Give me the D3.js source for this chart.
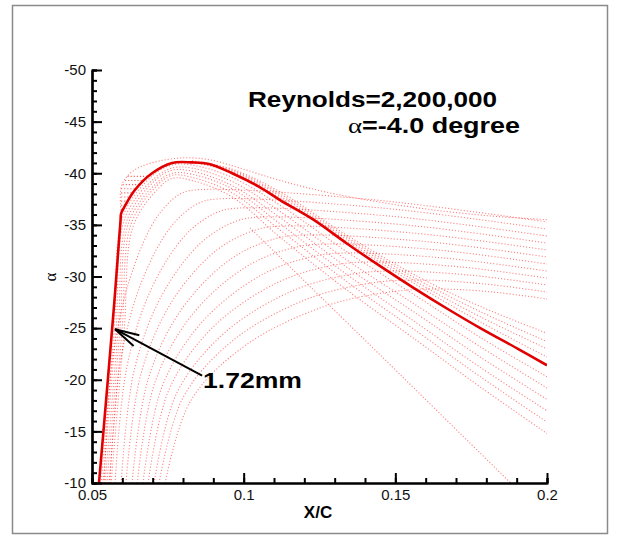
<!DOCTYPE html>
<html>
<head>
<meta charset="utf-8">
<script src="https://cdn.jsdelivr.net/npm/d3@7"></script>
<style>
body { margin: 0; background: #fff; }
svg { display: block; font-family: "Liberation Sans", Arial, sans-serif; }
</style>
</head>
<body>
<script>
// tick values / labels
var xTicks = [0.05, 0.1, 0.15, 0.2];
var xTickLabels = ["0.05", "0.1", "0.15", "0.2"];
var yTicks = [-50, -45, -40, -35, -30, -25, -20, -15, -10];

// the thick red curve
var mainCurve = [[0.0523,-10],[0.0545,-17.5],[0.0566,-24.8],[0.0576,-28.4],[0.0594,-35.4],[0.0596,-36.1],
  [0.0606,-36.7],[0.0642,-38.4],[0.0698,-40.0],[0.0764,-41.0],[0.083,-41.05],[0.0886,-40.9],[0.0962,-40.0],
  [0.105,-38.7],[0.112,-37.4],[0.123,-35.5],[0.134,-33.2],[0.145,-31.0],[0.156,-28.9],[0.167,-26.9],
  [0.178,-25.0],[0.191,-22.9],[0.2,-21.4]];

// dotted lines hugging the thick curve (inside it)
var innerBand = [
  [[0.0530,-10],[0.0573,-24.8],[0.0603,-35.9],[0.0701,-39.8],[0.0764,-40.8],[0.083,-40.8],[0.0962,-39.6],[0.112,-36.9],[0.134,-32.4],[0.158,-27.9],[0.178,-24.1],[0.2,-20.3]],
  [[0.0536,-10],[0.0579,-24.8],[0.0609,-35.7],[0.0705,-39.5],[0.0764,-40.5],[0.083,-40.5],[0.0962,-39.2],[0.112,-36.3],[0.134,-31.6],[0.158,-27.0],[0.178,-23.2],[0.2,-19.2]],
  [[0.0543,-10],[0.0586,-24.8],[0.0616,-35.5],[0.0708,-39.3],[0.0764,-40.3],[0.083,-40.2],[0.0962,-38.8],[0.112,-35.7],[0.134,-30.9],[0.158,-26.2],[0.178,-22.2],[0.2,-18.1]],
  [[0.0549,-10],[0.0592,-24.8],[0.0622,-35.3],[0.0711,-39.0],[0.0764,-40.0],[0.083,-39.9],[0.0962,-38.5],[0.112,-35.1],[0.134,-30.2],[0.158,-25.3],[0.178,-21.2],[0.2,-17.0]],
  [[0.0556,-10],[0.0599,-24.8],[0.0629,-35.1],[0.0714,-38.8],[0.0764,-39.8],[0.083,-39.6],[0.0962,-38.1],[0.112,-34.5],[0.134,-29.5],[0.158,-24.5],[0.178,-20.3],[0.2,-15.9]],
  [[0.0563,-10],[0.0606,-24.8],[0.0636,-34.9],[0.0718,-38.5],[0.0764,-39.5],[0.083,-39.3],[0.0962,-37.7],[0.112,-33.8],[0.134,-28.7],[0.158,-23.6],[0.178,-19.3],[0.2,-14.8]]
];

// dotted lines just above the thick curve on its falling side
var outerBand = [
  [[0.083,-41.05],[0.0962,-40.1],[0.112,-37.6],[0.134,-33.4],[0.158,-29.0],[0.178,-25.6],[0.2,-22.2]],
  [[0.083,-41.1],[0.0962,-40.2],[0.112,-37.8],[0.134,-33.6],[0.158,-29.3],[0.178,-26.1],[0.2,-23.0]],
  [[0.083,-41.15],[0.0962,-40.3],[0.112,-38.0],[0.134,-33.8],[0.158,-29.6],[0.178,-26.6],[0.2,-23.7]],
  [[0.083,-41.2],[0.0962,-40.4],[0.112,-38.2],[0.134,-34.0],[0.158,-29.9],[0.178,-27.1],[0.2,-24.5]]
];

// outermost dotted envelope
var envelope = [[0.0596,-36.1],[0.0596,-38.67],[0.0619,-39.8],[0.0658,-40.6],[0.0724,-41.2],[0.0807,-41.5],
  [0.0889,-41.3],[0.0988,-40.5],[0.112,-39.3],[0.13,-38.0],[0.156,-36.7],[0.18,-35.9],[0.2,-35.5]];

// nested arcs rising from the bottom, then running to the right edge
var arcs = [
  [[0.0540,-10],[0.0568,-22.0],[0.0628,-30.07],[0.0713,-35.71],[0.0788,-37.95],[0.0840,-38.38],[0.1421,-37.45],[0.2,-35.28]],
  [[0.0559,-10],[0.0593,-21.63],[0.0663,-29.45],[0.0763,-34.92],[0.0851,-37.09],[0.0913,-37.51],[0.1457,-36.63],[0.2,-34.6]],
  [[0.0576,-10],[0.0615,-21.26],[0.0696,-28.83],[0.0812,-34.13],[0.0914,-36.23],[0.0985,-36.63],[0.1493,-35.82],[0.2,-33.92]],
  [[0.0596,-10],[0.0639,-20.9],[0.0731,-28.22],[0.0862,-33.34],[0.0977,-35.37],[0.1058,-35.76],[0.1530,-35.0],[0.2,-33.24]],
  [[0.0612,-10],[0.0661,-20.53],[0.0764,-27.6],[0.0911,-32.55],[0.1040,-34.51],[0.1130,-34.89],[0.1566,-34.19],[0.2,-32.57]],
  [[0.0632,-10],[0.0686,-20.16],[0.0799,-26.98],[0.0961,-31.76],[0.1104,-33.66],[0.1203,-34.02],[0.1602,-33.38],[0.2,-31.89]],
  [[0.0649,-10],[0.0708,-19.79],[0.0832,-26.37],[0.1010,-30.97],[0.1166,-32.8],[0.1276,-33.15],[0.1639,-32.57],[0.2,-31.21]],
  [[0.0668,-10],[0.0732,-19.42],[0.0868,-25.75],[0.1061,-30.18],[0.1230,-31.95],[0.1348,-32.28],[0.1675,-31.75],[0.2,-30.53]],
  [[0.0685,-10],[0.0754,-19.06],[0.0900,-25.13],[0.1110,-29.39],[0.1293,-31.08],[0.1421,-31.4],[0.1711,-30.94],[0.2,-29.85]],
  [[0.0705,-10],[0.0779,-18.69],[0.0936,-24.52],[0.1160,-28.6],[0.1356,-30.22],[0.1493,-30.53],[0.1748,-30.13],[0.2,-29.18]],
  [[0.0721,-10],[0.0801,-18.32],[0.0969,-23.9],[0.1209,-27.81],[0.1419,-29.36],[0.1566,-29.66],[0.1784,-29.31],[0.2,-28.5]],
  [[0.0741,-10],[0.0825,-17.95],[0.1004,-23.29],[0.1259,-27.03],[0.1483,-28.51],[0.1639,-28.79],[0.1820,-28.5],[0.2,-27.82]]
];

// single steep dotted line crossing the x axis
var radialLine = [[0.1021,-34.7],[0.145,-22.4],[0.188,-10]];

// short horizontal hatches left of the corner: [y, x1, x2]
var hatches = [[-36.5,0.0596,0.0604],[-36.9,0.0596,0.0612],[-37.3,0.0596,0.062],[-37.7,0.0596,0.0628],
  [-38.1,0.0596,0.0636],[-38.5,0.0596,0.0644],[-38.9,0.0601,0.066],[-39.3,0.0609,0.0674],[-39.7,0.0617,0.0688]];

// arrow annotation: tip, tail
var arrowTip = [0.0576, -24.9];
var arrowTail = [0.0863, -20.4];

var W = 620, H = 539;

var svg = d3.select("body").append("svg")
  .attr("width", W)
  .attr("height", H);

// outer frame
svg.append("rect")
  .attr("x", 12.5).attr("y", 5.5)
  .attr("width", 595).attr("height", 528)
  .attr("fill", "none")
  .attr("stroke", "#8a8a8a")
  .attr("stroke-width", 1.5);

var x = d3.scaleLinear().domain([0.05, 0.2]).range([92, 547]);
var y = d3.scaleLinear().domain([-10, -50]).range([483, 70]);

svg.append("clipPath").attr("id", "plot")
  .append("rect")
  .attr("x", 92).attr("y", 70)
  .attr("width", 455).attr("height", 413);

var plot = svg.append("g").attr("clip-path", "url(#plot)");

var line = d3.line()
  .x(function(d) { return x(d[0]); })
  .y(function(d) { return y(d[1]); })
  .curve(d3.curveCatmullRom.alpha(0.5));

var dotted = function(sel) {
  sel.attr("fill", "none")
    .attr("stroke", "#ff0000")
    .attr("stroke-opacity", 0.5)
    .attr("stroke-width", 1.1)
    .attr("stroke-dasharray", "1.1,2");
};

plot.append("g").selectAll("path")
  .data(arcs.concat(innerBand, outerBand, [envelope, radialLine]))
  .enter().append("path")
  .attr("d", line)
  .call(dotted);

plot.append("g").selectAll("line")
  .data(hatches)
  .enter().append("line")
  .attr("x1", function(d) { return x(d[1]); })
  .attr("x2", function(d) { return x(d[2]); })
  .attr("y1", function(d) { return y(d[0]); })
  .attr("y2", function(d) { return y(d[0]); })
  .call(dotted)
  .attr("stroke-opacity", 0.65);

plot.append("path")
  .datum(mainCurve)
  .attr("d", line)
  .attr("fill", "none")
  .attr("stroke", "#e00000")
  .attr("stroke-width", 2.6)
  .attr("stroke-linejoin", "round");

// axes
var yAxis = svg.append("g").attr("transform", "translate(92,0)")
  .call(d3.axisLeft(y).tickValues(yTicks).tickSizeInner(-10).tickSizeOuter(0).tickPadding(6)
    .tickFormat(function(d) { return d; }));
var yMinor = svg.append("g").attr("transform", "translate(92,0)")
  .call(d3.axisLeft(y).tickValues(d3.range(-50, -9, 1)).tickSize(-5).tickFormat(""));
var xAxis = svg.append("g").attr("transform", "translate(0,483)")
  .call(d3.axisBottom(x).tickValues(xTicks).tickSizeInner(-10).tickSizeOuter(0).tickPadding(6)
    .tickFormat(function(d, i) { return xTickLabels[i]; }));
var xMinor = svg.append("g").attr("transform", "translate(0,483)")
  .call(d3.axisBottom(x).tickValues(d3.range(0.05, 0.2001, 0.01)).tickSize(-5).tickFormat(""));

[yAxis, yMinor, xAxis, xMinor].forEach(function(g) {
  g.selectAll("path.domain").attr("stroke", "#000").attr("stroke-width", 2.2);
  g.selectAll(".tick line").attr("stroke", "#000").attr("stroke-width", 2);
  g.selectAll("text")
    .attr("font-family", "\"Liberation Sans\", Arial, sans-serif")
    .attr("font-size", 15)
    .attr("fill", "#111");
});

// axis titles
svg.append("text")
  .attr("transform", "translate(56,277) rotate(-90)")
  .attr("text-anchor", "middle")
  .attr("font-family", "\"Liberation Serif\", serif")
  .attr("font-size", 17)
  .text("α");

svg.append("text")
  .attr("x", 318).attr("y", 518)
  .attr("text-anchor", "middle")
  .attr("font-size", 17)
  .attr("font-weight", "bold")
  .text("X/C");

// annotation text
svg.append("text")
  .attr("x", 248).attr("y", 107)
  .attr("font-size", 22)
  .attr("font-weight", "bold")
  .attr("textLength", 249)
  .attr("lengthAdjust", "spacingAndGlyphs")
  .text("Reynolds=2,200,000");

var t2 = svg.append("text")
  .attr("x", 348).attr("y", 133)
  .attr("font-size", 22)
  .attr("font-weight", "bold")
  .attr("textLength", 172)
  .attr("lengthAdjust", "spacingAndGlyphs");
t2.append("tspan")
  .attr("font-family", "\"Liberation Serif\", serif")
  .attr("font-weight", "normal")
  .text("α");
t2.append("tspan").text("=-4.0 degree");

svg.append("text")
  .attr("x", 203).attr("y", 388)
  .attr("font-size", 22)
  .attr("font-weight", "bold")
  .attr("textLength", 99)
  .attr("lengthAdjust", "spacingAndGlyphs")
  .text("1.72mm");

// arrow
var tx = x(arrowTip[0]), ty = y(arrowTip[1]);
var ex = x(arrowTail[0]), ey = y(arrowTail[1]);
var ang = Math.atan2(ey - ty, ex - tx);
var barb = 25, spread = 14 * Math.PI / 180;
var arrow = svg.append("g").attr("stroke", "#000").attr("stroke-width", 2).attr("fill", "none");
arrow.append("line").attr("x1", tx).attr("y1", ty).attr("x2", ex).attr("y2", ey);
[-spread, spread].forEach(function(s) {
  arrow.append("line")
    .attr("x1", tx).attr("y1", ty)
    .attr("x2", tx + barb * Math.cos(ang + s))
    .attr("y2", ty + barb * Math.sin(ang + s));
});
</script>
</body>
</html>
